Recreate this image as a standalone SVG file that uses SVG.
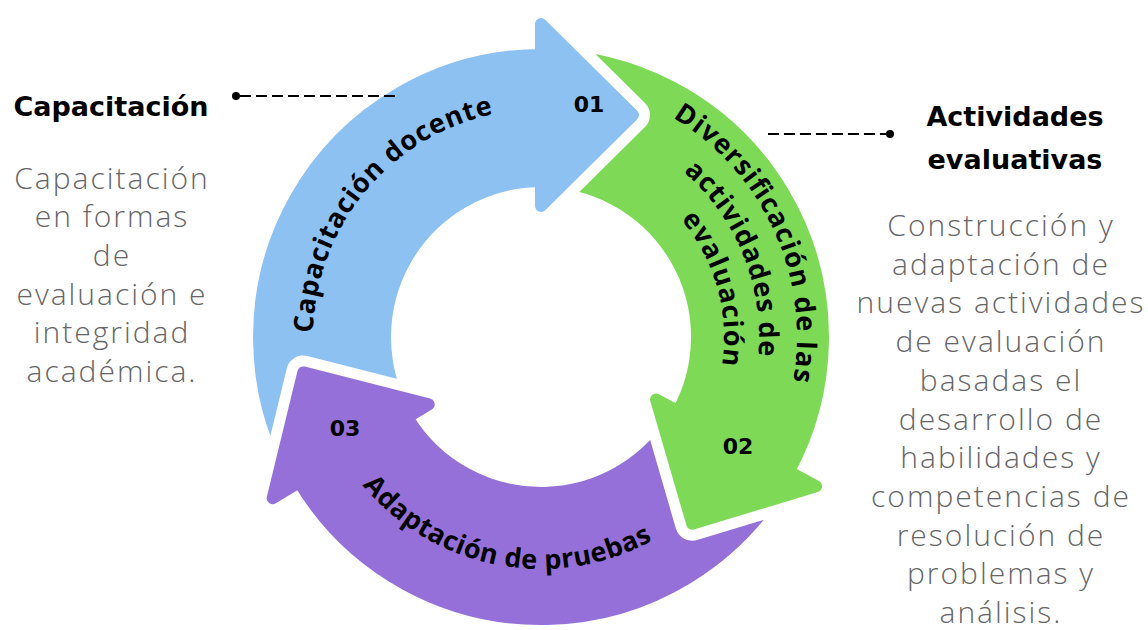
<svg xmlns="http://www.w3.org/2000/svg" width="1148" height="630" viewBox="0 0 1148 630">
<style>
.ring{stroke-width:12;stroke-linejoin:round}
.blue{fill:#8cc1f2;stroke:#8cc1f2}
.green{fill:#7ed957;stroke:#7ed957}
.purple{fill:#9570d9;stroke:#9570d9}
.cut{fill:#000;stroke:#000;stroke-width:34;stroke-linejoin:round}
.lbl{font-family:"DejaVu Sans","Liberation Sans",sans-serif;font-weight:700;fill:#000}
.num{font-size:22px;text-anchor:middle}
.curve{font-family:"Open Sans","Liberation Sans",sans-serif;font-size:27px}
.head{font-family:"DejaVu Sans","Liberation Sans",sans-serif;font-weight:700;font-size:27px;text-anchor:middle;fill:#000}
.body{font-family:"Open Sans","Liberation Sans",sans-serif;font-weight:300;font-size:30px;letter-spacing:2px;fill:#666;text-anchor:middle}
.dash{stroke:#000;stroke-width:2;stroke-dasharray:11 5;fill:none}
</style>
<defs>
<mask id="mBlue" maskUnits="userSpaceOnUse" x="0" y="0" width="1148" height="630"><rect width="1148" height="630" fill="#fff"/><path class="cut" d="M272.7 498.2 L303.3 372.4 L428.7 404.4 Z"/></mask>
<mask id="mGreen" maskUnits="userSpaceOnUse" x="0" y="0" width="1148" height="630"><rect width="1148" height="630" fill="#fff"/><path class="cut" d="M541 24 L633 115 L541 206 Z"/></mask>
<mask id="mPurple" maskUnits="userSpaceOnUse" x="0" y="0" width="1148" height="630"><rect width="1148" height="630" fill="#fff"/><path class="cut" d="M816.1 486.3 L692.2 523.7 L656.1 399.5 Z"/></mask>
<path id="tpBlue" d="M313.0 333.0 A228 228 0 0 1 493.6 114.0"/>
<path id="tpG1" d="M672.8 117.6 A256 256 0 0 1 793.1 381.5"/>
<path id="tpG2" d="M683.5 171.9 A218 218 0 0 1 758.2 356.0"/>
<path id="tpG3" d="M681.0 219.5 A183 183 0 0 1 722.0 364.2"/>
<path id="tpPurple" d="M362.5 485.2 A232 232 0 0 0 652.8 540.3"/>
</defs>

<g id="node-capacitacion-docente">
<path class="ring blue" mask="url(#mBlue)" d="M299.3 482.2 A282 282 0 0 1 541 55 L541 24 L633 115 L541 206 L541 181 A156 156 0 0 0 407.3 417.3 Z"/>
<text class="lbl curve"><textPath href="#tpBlue" textLength="306" lengthAdjust="spacing">Capacitación docente</textPath></text>
<text class="lbl num" x="589" y="112">01</text>
</g>

<g id="node-diversificacion">
<path class="ring green" mask="url(#mGreen)" d="M541 55 A282 282 0 0 1 788.8 471.6 L816.1 486.3 L692.2 523.7 L656.1 399.5 L678.1 411.4 A156 156 0 0 0 541 181 Z"/>
<text class="lbl curve"><textPath href="#tpG1" textLength="308" lengthAdjust="spacing">Diversificación de las</textPath></text>
<text class="lbl curve"><textPath href="#tpG2" textLength="206" lengthAdjust="spacing">actividades de</textPath></text>
<text class="lbl curve"><textPath href="#tpG3" textLength="156" lengthAdjust="spacing">evaluación</textPath></text>
<text class="lbl num" x="738" y="454">02</text>
</g>

<g id="node-adaptacion-pruebas">
<path class="ring purple" mask="url(#mPurple)" d="M788.8 471.6 A282 282 0 0 1 299.3 482.2 L272.7 498.2 L303.3 372.4 L428.7 404.4 L407.3 417.3 A156 156 0 0 0 678.1 411.4 Z"/>
<text class="lbl curve"><textPath href="#tpPurple" textLength="320" lengthAdjust="spacing">Adaptación de pruebas</textPath></text>
<text class="lbl num" x="345" y="436">03</text>
</g>

<g id="node-capacitacion-info">
<text class="head" x="111" y="116">Capacitación</text>
<text class="body" x="112" y="189">Capacitación</text>
<text class="body" x="112" y="227">en formas</text>
<text class="body" x="112" y="266">de</text>
<text class="body" x="112" y="305">evaluación e</text>
<text class="body" x="112" y="343">integridad</text>
<text class="body" x="112" y="382">académica.</text>
</g>

<g id="node-actividades-info">
<text class="head" x="1015" y="126">Actividades</text>
<text class="head" x="1015" y="169">evaluativas</text>
<text class="body" x="1001" y="236">Construcción y</text>
<text class="body" x="1001" y="275">adaptación de</text>
<text class="body" x="1001" y="313">nuevas actividades</text>
<text class="body" x="1001" y="352">de evaluación</text>
<text class="body" x="1001" y="391">basadas el</text>
<text class="body" x="1001" y="430">desarrollo de</text>
<text class="body" x="1001" y="468">habilidades y</text>
<text class="body" x="1001" y="507">competencias de</text>
<text class="body" x="1001" y="546">resolución de</text>
<text class="body" x="1001" y="584">problemas y</text>
<text class="body" x="1001" y="623">análisis.</text>
</g>

<g id="connectors">
<circle cx="236" cy="96" r="4" fill="#000"/>
<line class="dash" x1="240" y1="96" x2="396" y2="96"/>
<line class="dash" x1="768" y1="134" x2="886" y2="134"/>
<circle cx="890" cy="134" r="4" fill="#000"/>
</g>
</svg>
